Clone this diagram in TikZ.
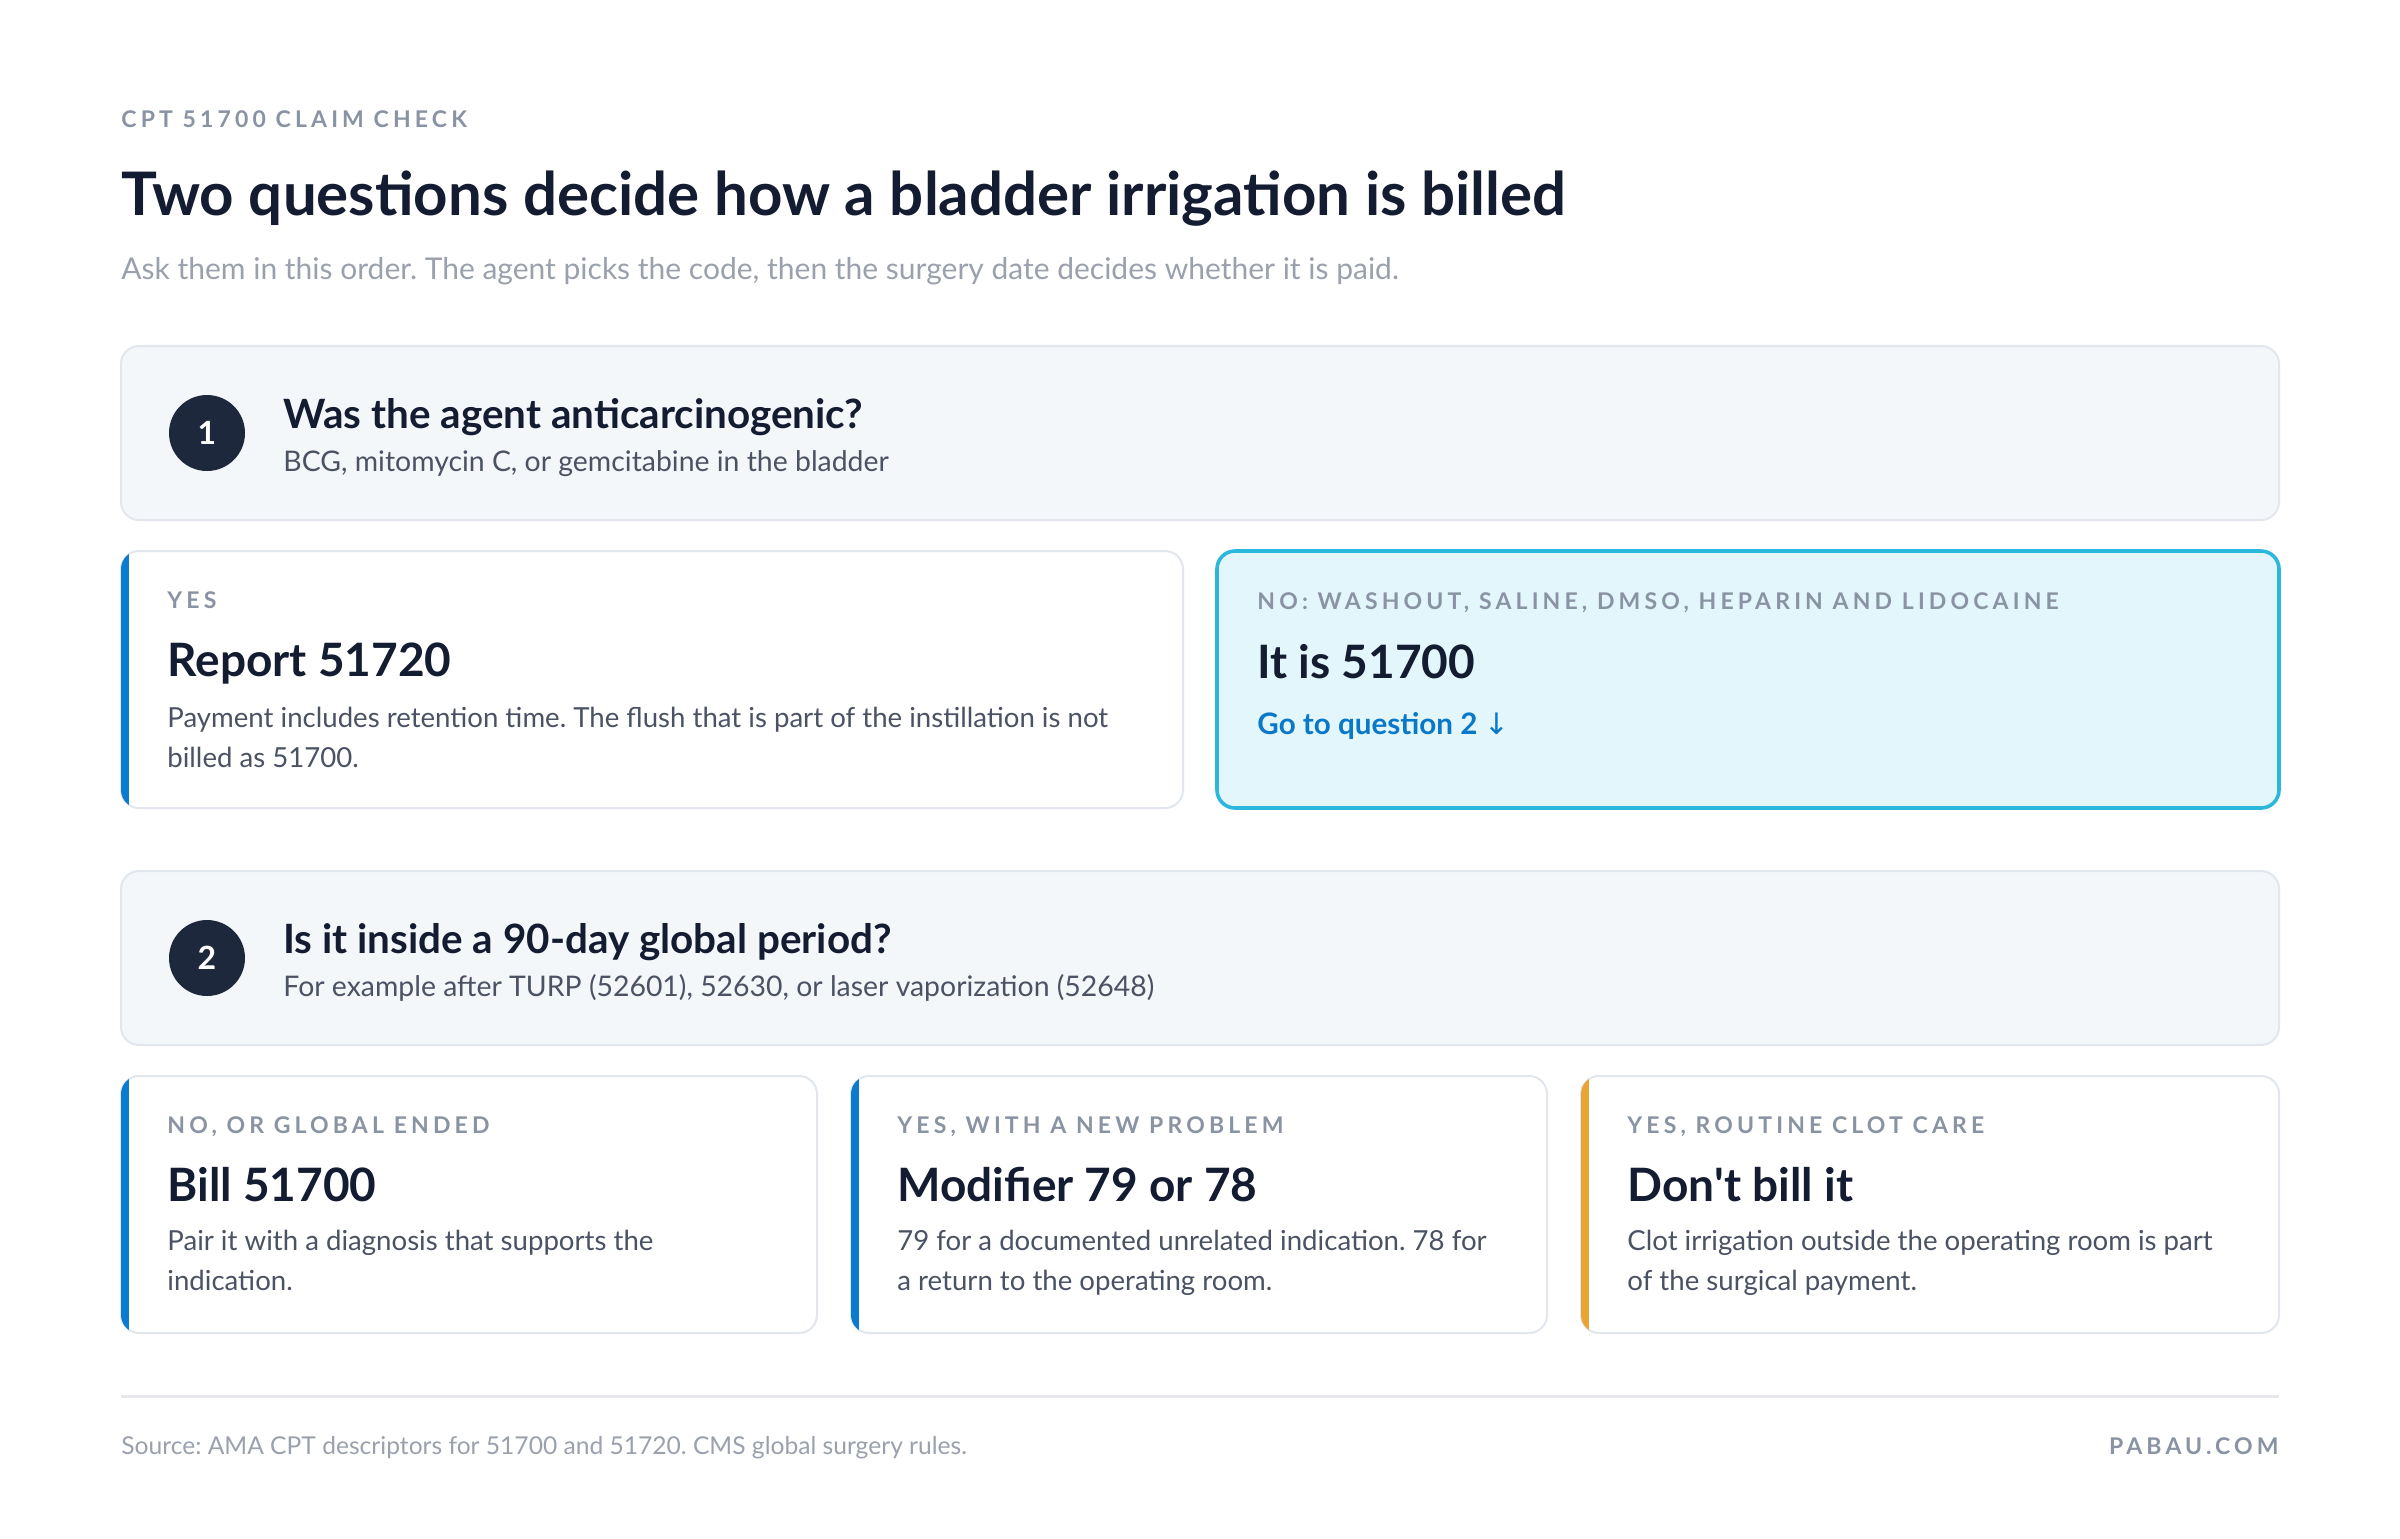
\documentclass[tikz,border=0pt]{standalone}
\usepackage{fontspec}
\setmainfont{Lato}
\newfontfamily\trackedfont[LetterSpace=18]{Lato}
\newfontfamily\arrowfont{DejaVu Sans}
\usetikzlibrary{positioning}
\frenchspacing
\definecolor{color_ink}{HTML}{131C30}
\definecolor{color_body}{HTML}{4A5263}
\definecolor{color_muted}{HTML}{8A93A3}
\definecolor{color_sub}{HTML}{9AA1AD}
\definecolor{color_panel}{HTML}{F4F7FA}
\definecolor{color_edge}{HTML}{E2E7EE}
\definecolor{color_rule}{HTML}{E6E8EC}
\definecolor{color_accent_blue}{HTML}{0B7BD0}
\definecolor{color_accent_gold}{HTML}{E9A436}
\definecolor{color_hint_fill}{HTML}{E3F6FB}
\definecolor{color_hint_edge}{HTML}{2CB7DD}
\definecolor{color_link}{HTML}{0A78C8}
\definecolor{color_badge}{HTML}{1D283C}
\tikzset{
  txt/.style={anchor=base west, inner sep=0pt},
  eyebrow/.style={txt, text=color_muted, font=\trackedfont\bfseries\fontsize{11.5}{11.5}\selectfont},
  headline/.style={txt, text=color_ink, font=\bfseries\fontsize{30}{30}\selectfont},
  lead/.style={txt, text=color_sub, font=\fontsize{15}{15}\selectfont},
  qtitle/.style={txt, text=color_ink, font=\bfseries\fontsize{20.2}{20.2}\selectfont},
  qsub/.style={txt, text=color_body, font=\fontsize{14.2}{14.2}\selectfont},
  atitle/.style={txt, text=color_ink, font=\bfseries\fontsize{23}{23}\selectfont},
  abody/.style={txt, align=left, text=color_body, font=\fontsize{13.8}{20}\selectfont},
  alink/.style={txt, text=color_link, font=\bfseries\fontsize{14.8}{14.8}\selectfont},
  badge/.style={circle, fill=color_badge, minimum size=38pt, inner sep=0pt, text=white, font=\bfseries\fontsize{16}{16}\selectfont},
  panel/.style={fill=color_panel, draw=color_edge, line width=1pt, rounded corners=9pt},
  card/.style={fill=white, draw=color_edge, line width=1pt, rounded corners=9pt},
  hint/.style={fill=color_hint_fill, draw=color_hint_edge, line width=1.8pt, rounded corners=9pt},
}
% white card with a coloured strip on its left edge
\newcommand\accentcard[5]{%
  \draw[card] (#1,#2) rectangle (#3,#4);
  \begin{scope}
    \clip[rounded corners=9pt] (#1,#2) rectangle (#3,#4);
    \fill[#5] (#1-2,#2) rectangle (#1+8,#4);
  \end{scope}
}
% straight apostrophe
\newcommand\straightquote{{\addfontfeatures{Ligatures=TeXOff}'}}

\begin{document}
\begin{tikzpicture}[x=0.5pt, y=-0.5pt]
  \fill[white] (0,0) rectangle (2400,1538);
  \useasboundingbox (0,0) rectangle (2400,1538);
  % heading
  \node[eyebrow] (kicker) at (121,127) {CPT 51700 CLAIM CHECK};
  \node[headline] (title) at (121,215) {Two questions decide how a bladder irrigation is billed};
  \node[lead] (intro) at (121,279) {Ask them in this order. The agent picks the code, then the surgery date decides whether it is paid.};

  % question 1
  \draw[panel] (121,346) rectangle (2279,520);
  \node[badge] (q1num) at (207,433) {1};
  \node[qtitle] (q1) at (283,428) {Was the agent anticarcinogenic?};
  \node[qsub] (q1note) at (283,471) {BCG, mitomycin C, or gemcitabine in the bladder};

  \accentcard{121}{551}{1183}{808}{color_accent_blue}
  \node[eyebrow] (yeslabel) at (167,608) {YES};
  \node[atitle] (yescode) at (167,676) {Report 51720};
  % base of a two-line node is its last line
  \node[abody] (yesnote) at (167,767) {Payment includes retention time. The flush that is part of the instillation is not\\billed as 51700.};

  \draw[hint] (1217,551) rectangle (2279,808);
  \node[eyebrow] (nolabel) at (1257,609) {NO: WASHOUT, SALINE, DMSO, HEPARIN AND LIDOCAINE};
  \node[atitle] (nocode) at (1257,678) {It is 51700};
  \node[alink] (nolink) at (1257,734) {Go to question 2 {\arrowfont\mdseries ↓}};

  % question 2
  \draw[panel] (121,871) rectangle (2279,1045);
  \node[badge] (q2num) at (207,958) {2};
  \node[qtitle] (q2) at (283,953) {Is it inside a 90-day global period?};
  \node[qsub] (q2note) at (283,996) {For example after TURP (52601), 52630, or laser vaporization (52648)};

  \accentcard{121}{1076}{817}{1333}{color_accent_blue}
  \node[eyebrow] (endedlabel) at (167,1133) {NO, OR GLOBAL ENDED};
  \node[atitle] (endedcode) at (167,1201) {Bill 51700};
  \node[abody] (endednote) at (167,1290) {Pair it with a diagnosis that supports the\\indication.};

  \accentcard{851}{1076}{1547}{1333}{color_accent_blue}
  \node[eyebrow] (newlabel) at (897,1133) {YES, WITH A NEW PROBLEM};
  \node[atitle] (newcode) at (897,1201) {Modifier 79 or 78};
  \node[abody] (newnote) at (897,1290) {79 for a documented unrelated indication. 78 for\\a return to the operating room.};

  \accentcard{1581}{1076}{2279}{1333}{color_accent_gold}
  \node[eyebrow] (clotlabel) at (1627,1133) {YES, ROUTINE CLOT CARE};
  \node[atitle] (clotcode) at (1627,1201) {Don\straightquote t bill it};
  \node[abody] (clotnote) at (1627,1290) {Clot irrigation outside the operating room is part\\of the surgical payment.};

  % footer
  \draw[color_rule, line width=1.5pt] (121,1396) -- (2279,1396);
  \node[txt, text=color_sub, font=\fontsize{12.3}{12.3}\selectfont] (source) at (121,1454) {Source: AMA CPT descriptors for 51700 and 51720. CMS global surgery rules.};
  \node[eyebrow, anchor=base east] (brand) at (2279,1454) {PABAU.COM};
\end{tikzpicture}
\end{document}
